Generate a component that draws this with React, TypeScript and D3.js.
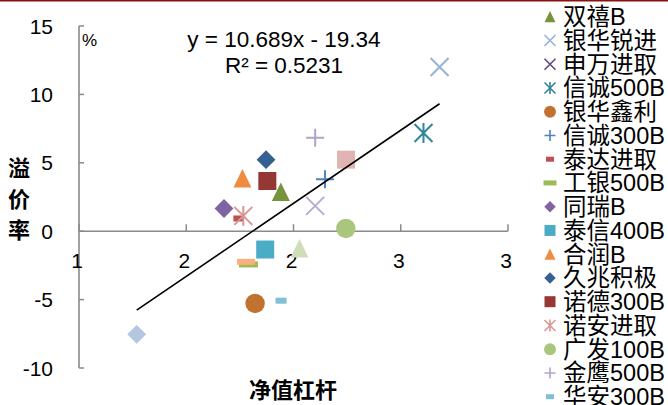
import React from "react";
import * as d3 from "d3";

// Fund names, in legend order (extra unnamed series at the end carry no legend entry)
const names = [
  "双禧B", "银华锐进", "申万进取", "信诚500B", "银华鑫利", "信诚300B", "泰达进取", "工银500B",
  "同瑞B", "泰信400B", "合润B", "久兆积极", "诺德300B", "诺安进取", "广发100B", "金鹰500B", "华安300B",
  "", "", "", "", "",
];
// Net-value leverage (x) and premium rate % (y)
const leverage: (number | null)[] = [
  1.941, 2.681, null, 2.606, 1.821, 2.147, 1.743, 1.79,
  1.676, 1.868, 1.762, 1.872, 1.878, 1.766, 2.244, 2.101, 1.942,
  2.101, 2.028, 2.245, 1.269, 1.779,
];
const premium: (number | null)[] = [
  2.87, 12.0, null, 7.18, -5.28, 3.8, 0.93, -2.43,
  1.66, -1.34, 3.85, 5.23, 3.67, 1.12, 0.2, 6.84, -5.08,
  1.85, -1.27, 5.23, -7.54, -2.24,
];

const xTicks = [1, 1.5, 2, 2.5, 3];
const yTicks = [-10, -5, 0, 5, 10, 15];
const slope = 10.689;
const intercept = -19.34;
const r2 = "0.5231";

type Shape = "triangle" | "x" | "asterisk" | "circle" | "plus" | "dash" | "diamond" | "square";
const shapes: Shape[] = [
  "triangle", "x", "x", "asterisk", "circle", "plus", "dash", "dash",
  "diamond", "square", "triangle", "diamond", "square", "asterisk", "circle", "plus", "dash",
  "x", "triangle", "square", "diamond", "dash",
];
const colors = [
  "#77933C", "#95B3D7", "#604A7B", "#31859C", "#C2722F", "#4F81BD", "#C0504D", "#9BBB59",
  "#8064A2", "#4BACC6", "#F08C3F", "#376092", "#953735", "#D99694", "#AAC67C", "#B3A2C7", "#7EC1D6",
  "#B8ACD0", "#D0DEB8", "#E0B4B3", "#B4C6E0", "#FAB07E",
];
// dash widths (plot / legend)
const dashW = [0, 0, 0, 0, 0, 0, 10, 19, 0, 0, 0, 0, 0, 0, 0, 0, 11, 0, 0, 0, 0, 18];
const dashWLegend = [0, 0, 0, 0, 0, 0, 8, 13, 0, 0, 0, 0, 0, 0, 0, 0, 8, 0, 0, 0, 0, 8];

const W = 668;
const H = 405;
const FONT = "'Liberation Sans', Arial, 'Noto Sans CJK SC', sans-serif";

function Marker({ shape, color, cx, cy, s, dw }: { shape: Shape; color: string; cx: number; cy: number; s: number; dw: number }) {
  const h = s / 2;
  const sw = s > 12 ? 2 : 1.6;
  switch (shape) {
    case "triangle":
      return <path d={`M${cx},${cy - h * 1.05}L${cx + h},${cy + h}L${cx - h},${cy + h}Z`} fill={color} />;
    case "square":
      return <rect x={cx - h} y={cy - h} width={s} height={s} fill={color} />;
    case "diamond":
      return <path d={`M${cx},${cy - h * 1.05}L${cx + h * 1.05},${cy}L${cx},${cy + h * 1.05}L${cx - h * 1.05},${cy}Z`} fill={color} />;
    case "circle":
      return <circle cx={cx} cy={cy} r={h * 1.08} fill={color} />;
    case "x":
      return <path d={`M${cx - h},${cy - h}L${cx + h},${cy + h}M${cx - h},${cy + h}L${cx + h},${cy - h}`} stroke={color} strokeWidth={sw} fill="none" />;
    case "asterisk":
      return (
        <path
          d={`M${cx - h},${cy - h}L${cx + h},${cy + h}M${cx - h},${cy + h}L${cx + h},${cy - h}M${cx},${cy - h * 1.1}L${cx},${cy + h * 1.1}`}
          stroke={color}
          strokeWidth={sw}
          fill="none"
        />
      );
    case "plus":
      return <path d={`M${cx - h},${cy}L${cx + h},${cy}M${cx},${cy - h}L${cx},${cy + h}`} stroke={color} strokeWidth={sw} fill="none" />;
    case "dash":
      return <rect x={cx - dw / 2} y={cy - (s > 12 ? 3 : 2.5)} width={dw} height={s > 12 ? 6 : 5} fill={color} />;
  }
}

export default function App() {
  const x = d3.scaleLinear().domain([1, 3]).range([79, 508]);
  const y = d3.scaleLinear().domain([-10, 15]).range([368, 26]);

  const xs = leverage.filter((v): v is number => v != null);
  const xMin = d3.min(xs)!;
  const xMax = d3.max(xs)!;
  const trend = d3.line<number>().x((v) => x(v)).y((v) => y(slope * v + intercept));

  const legendIdx = names.map((n, i) => (n ? i : -1)).filter((i) => i >= 0);

  return (
    <svg width={W} height={H} style={{ position: "absolute", left: 0, top: 0, background: "#fff" }} fontFamily={FONT}>
      <rect x={0} y={0} width={W} height={H} fill="#fff" />
      <line x1={0} x2={W} y1={0.75} y2={0.75} stroke="#8B1010" strokeWidth={1.5} />

      {/* axes */}
      <line x1={x(1)} x2={x(1)} y1={y(15)} y2={y(-10)} stroke="#8A8A8A" strokeWidth={1.6} />
      <line x1={x(1)} x2={x(3)} y1={y(0)} y2={y(0)} stroke="#8A8A8A" strokeWidth={1.6} />
      {yTicks.map((t) => (
        <g key={"y" + t}>
          <line x1={x(1)} x2={x(1) + 5} y1={y(t)} y2={y(t)} stroke="#8A8A8A" strokeWidth={1.5} />
          <text x={53} y={y(t)} dy="0.36em" textAnchor="end" fontSize={21} fill="#000">
            {t}
          </text>
        </g>
      ))}
      {xTicks.map((t) => (
        <g key={"x" + t}>
          <line x1={x(t)} x2={x(t)} y1={y(0)} y2={y(0) - 7} stroke="#8A8A8A" strokeWidth={1.5} />
          <text x={x(t) - 2} y={260} dy="0.36em" textAnchor="middle" fontSize={21} fill="#000">
            {d3.format(".0f")(t === 1.5 ? 2 : t === 2.5 ? 3 : t)}
          </text>
        </g>
      ))}
      <text x={82} y={46} fontSize={17} fill="#000">%</text>

      {/* axis titles */}
      <text x={293} y={390} dy="0.36em" textAnchor="middle" fontSize={22} fontWeight="bold" fill="#000">
        净值杠杆
      </text>
      {["溢", "价", "率"].map((c, i) => (
        <text key={c} x={19} y={168 + i * 31} dy="0.36em" textAnchor="middle" fontSize={22} fontWeight="bold" fill="#000">
          {c}
        </text>
      ))}

      {/* points */}
      {names.map((_, i) =>
        leverage[i] == null || premium[i] == null ? null : (
          <Marker key={"p" + i} shape={shapes[i]} color={colors[i]} cx={x(leverage[i] as number)} cy={y(premium[i] as number)} s={18} dw={dashW[i]} />
        )
      )}

      {/* linear trend */}
      <path d={trend([xMin, xMax]) ?? ""} stroke="#000" strokeWidth={1.6} fill="none" />
      <text x={284} y={39} dy="0.36em" textAnchor="middle" fontSize={22.5} fill="#000">
        {`y = ${slope}x - ${Math.abs(intercept)}`}
      </text>
      <text x={284} y={65} dy="0.36em" textAnchor="middle" fontSize={22.5} fill="#000">
        {`R² = ${r2}`}
      </text>

      {/* legend */}
      {legendIdx.map((i, k) => {
        const cy = 16.7 + k * 23.75;
        return (
          <g key={"l" + i}>
            <Marker shape={shapes[i]} color={colors[i]} cx={550} cy={cy} s={11} dw={dashWLegend[i]} />
            <text x={563} y={cy} dy="0.36em" fontSize={23.5} fill="#000">
              {names[i]}
            </text>
          </g>
        );
      })}
    </svg>
  );
}
